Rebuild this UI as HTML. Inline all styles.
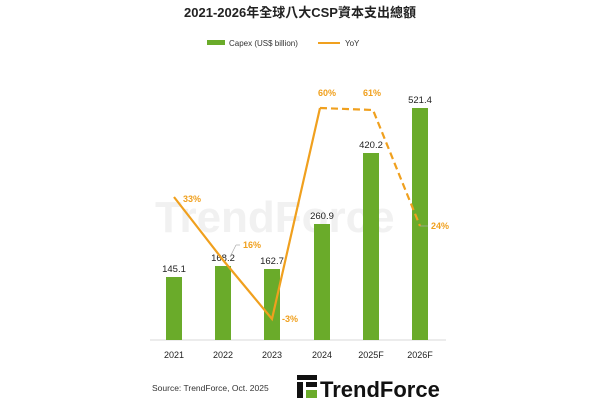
<!DOCTYPE html>
<html><head><meta charset="utf-8"><style>
body{margin:0;background:#fff;width:600px;height:400px;overflow:hidden}
</style></head><body>
<svg width="600" height="400" xmlns="http://www.w3.org/2000/svg" font-family="Liberation Sans, sans-serif">
<text x="300" y="17" text-anchor="middle" font-size="13" font-weight="bold" fill="#222" font-family="Liberation Sans, Noto Sans CJK TC, sans-serif">2021-2026年全球八大CSP資本支出總額</text>
<rect x="207" y="40" width="18" height="5" fill="#6aab2a"/>
<text x="229" y="46" font-size="8" fill="#333">Capex (US$ billion)</text>
<line x1="318" y1="43" x2="340" y2="43" stroke="#f0a01e" stroke-width="2"/>
<text x="345" y="46" font-size="8" fill="#333">YoY</text>
<text x="155" y="232" font-size="44" font-weight="bold" fill="#f1f1f1">TrendForce</text>
<line x1="150" y1="340" x2="446" y2="340" stroke="#d9d9d9" stroke-width="1"/>
<g fill="#6aab2a">
<rect x="166" y="277" width="16" height="63"/>
<rect x="215" y="266" width="16" height="74"/>
<rect x="264" y="269" width="16" height="71"/>
<rect x="314" y="224" width="16" height="116"/>
<rect x="363" y="153" width="16" height="187"/>
<rect x="412" y="108" width="16" height="232"/>
</g>
<g font-size="9.5" fill="#222" text-anchor="middle">
<text x="174" y="272">145.1</text><text x="223" y="261">168.2</text><text x="272" y="264">162.7</text>
<text x="322" y="219">260.9</text><text x="371" y="148">420.2</text><text x="420" y="103">521.4</text>
</g>
<g font-size="9" fill="#222" text-anchor="middle">
<text x="174" y="358">2021</text><text x="223" y="358">2022</text><text x="272" y="358">2023</text>
<text x="322" y="358">2024</text><text x="371" y="358">2025F</text><text x="420" y="358">2026F</text>
</g>
<polyline points="174,197 223,260 272,319 320,108" fill="none" stroke="#f0a01e" stroke-width="2.2"/>
<polyline points="320,108 373,110 420,226" fill="none" stroke="#f0a01e" stroke-width="2.2" stroke-dasharray="7,4"/>
<line x1="230" y1="257" x2="236" y2="245" stroke="#aaa" stroke-width="0.7"/>
<line x1="236" y1="245" x2="240" y2="245" stroke="#aaa" stroke-width="0.7"/>
<line x1="420" y1="226" x2="428" y2="226" stroke="#aaa" stroke-width="0.7"/>
<g font-size="9" font-weight="bold" fill="#f0a01e">
<text x="183" y="202">33%</text><text x="243" y="248">16%</text><text x="282" y="322">-3%</text>
<text x="318" y="96">60%</text><text x="363" y="96">61%</text><text x="431" y="229">24%</text>
</g>
<text x="152" y="391" font-size="8.5" fill="#333">Source: TrendForce, Oct. 2025</text>
<g fill="#111">
<rect x="297" y="375" width="20" height="5"/>
<rect x="297" y="382" width="6" height="16"/>
<rect x="306" y="382" width="11" height="5"/>
<rect x="306" y="390" width="11" height="8" fill="#6aab2a"/>
</g>
<text x="320" y="397" font-size="22" font-weight="bold" fill="#111">TrendForce</text>
</svg>
</body></html>
